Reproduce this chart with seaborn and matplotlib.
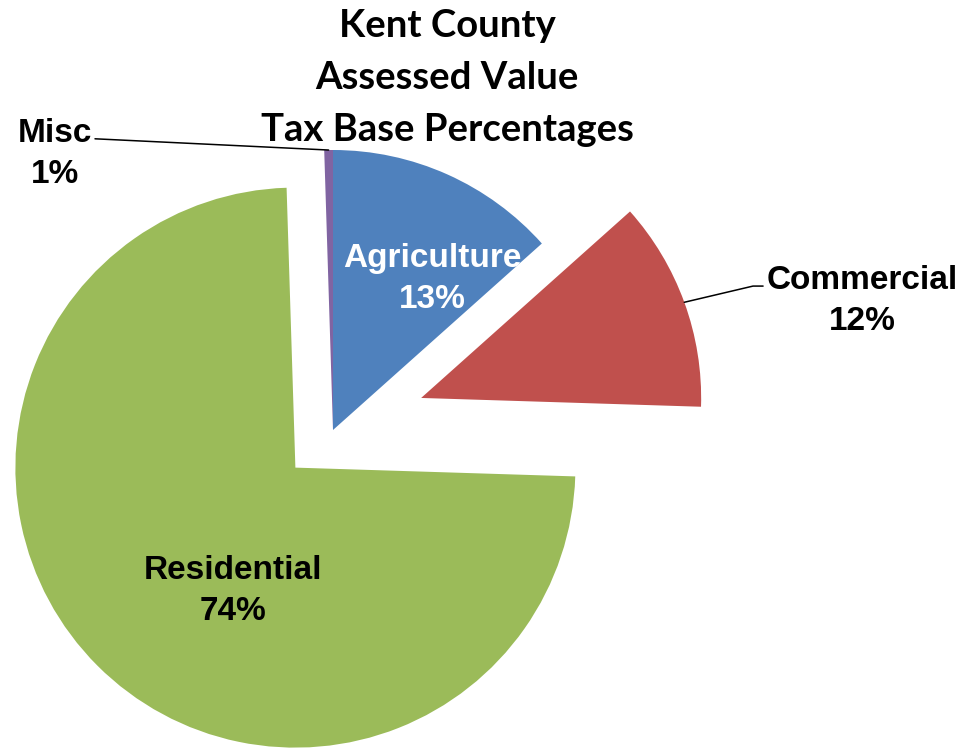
import matplotlib
matplotlib.use("Agg")
import matplotlib.pyplot as plt
import seaborn as sns
import numpy as np

# data (clockwise from 12 o'clock)
categories = ["Agriculture", "Commercial", "Residential", "Misc"]
shares = [13.4, 12.1, 74.0, 0.5]
pct_labels = ["13%", "12%", "74%", "1%"]
title_lines = ["Kent County", "Assessed Value", "Tax Base Percentages"]

palette = ["#4F81BD", "#C0504D", "#9BBB59", "#8064A2"]
explode = [0, 0.335, 0.19, 0]

# label placement (data units, pie radius = 1)
label_pos = {
    "Agriculture": (0.354, 0.539),
    "Commercial": (1.889, 0.46),
    "Residential": (-0.357, -0.575),
    "Misc": (-0.993, 0.986),
}
label_color = {"Agriculture": "white"}

sns.set_theme(style="white")
plt.rcParams['font.family'] = ['Liberation Sans', 'DejaVu Sans']

fig = plt.figure(figsize=(9.63, 7.51), dpi=100)
ax = fig.add_axes([0, 0, 1, 1])
colors = sns.color_palette(palette)

wedges, _ = ax.pie(shares, colors=colors, explode=explode, startangle=90,
                   counterclock=False, radius=1,
                   wedgeprops=dict(linewidth=0))

ax.set_xlim(-333 / 280, 630 / 280)
ax.set_ylim(-321 / 280, 430 / 280)
ax.set_aspect('equal')
ax.axis('off')

for cat, pct in zip(categories, pct_labels):
    x, y = label_pos[cat]
    ax.text(x, y, f"{cat}\n{pct}", ha='center', va='center',
            multialignment='center', fontsize=24, fontweight='bold',
            linespacing=1.42, color=label_color.get(cat, 'black'))


def arc_mid(w):
    a = np.deg2rad((w.theta1 + w.theta2) / 2)
    return w.center[0] + w.r * np.cos(a), w.center[1] + w.r * np.sin(a)


# leader lines
cx, cy = arc_mid(wedges[1])
ax.plot([cx, 1.50, 1.536], [cy, 0.514, 0.514], color='black', lw=1.1)
mx, my = arc_mid(wedges[3])
ax.plot([mx, -0.85], [my, 1.04], color='black', lw=1.1)

ax.text(0.407, 1.258, "\n".join(title_lines), ha='center', va='center',
        multialignment='center', fontsize=27.5, fontweight='bold',
        family=['Lato', 'DejaVu Sans'], linespacing=1.64, color='black')

fig.savefig("out.png", dpi=100)
